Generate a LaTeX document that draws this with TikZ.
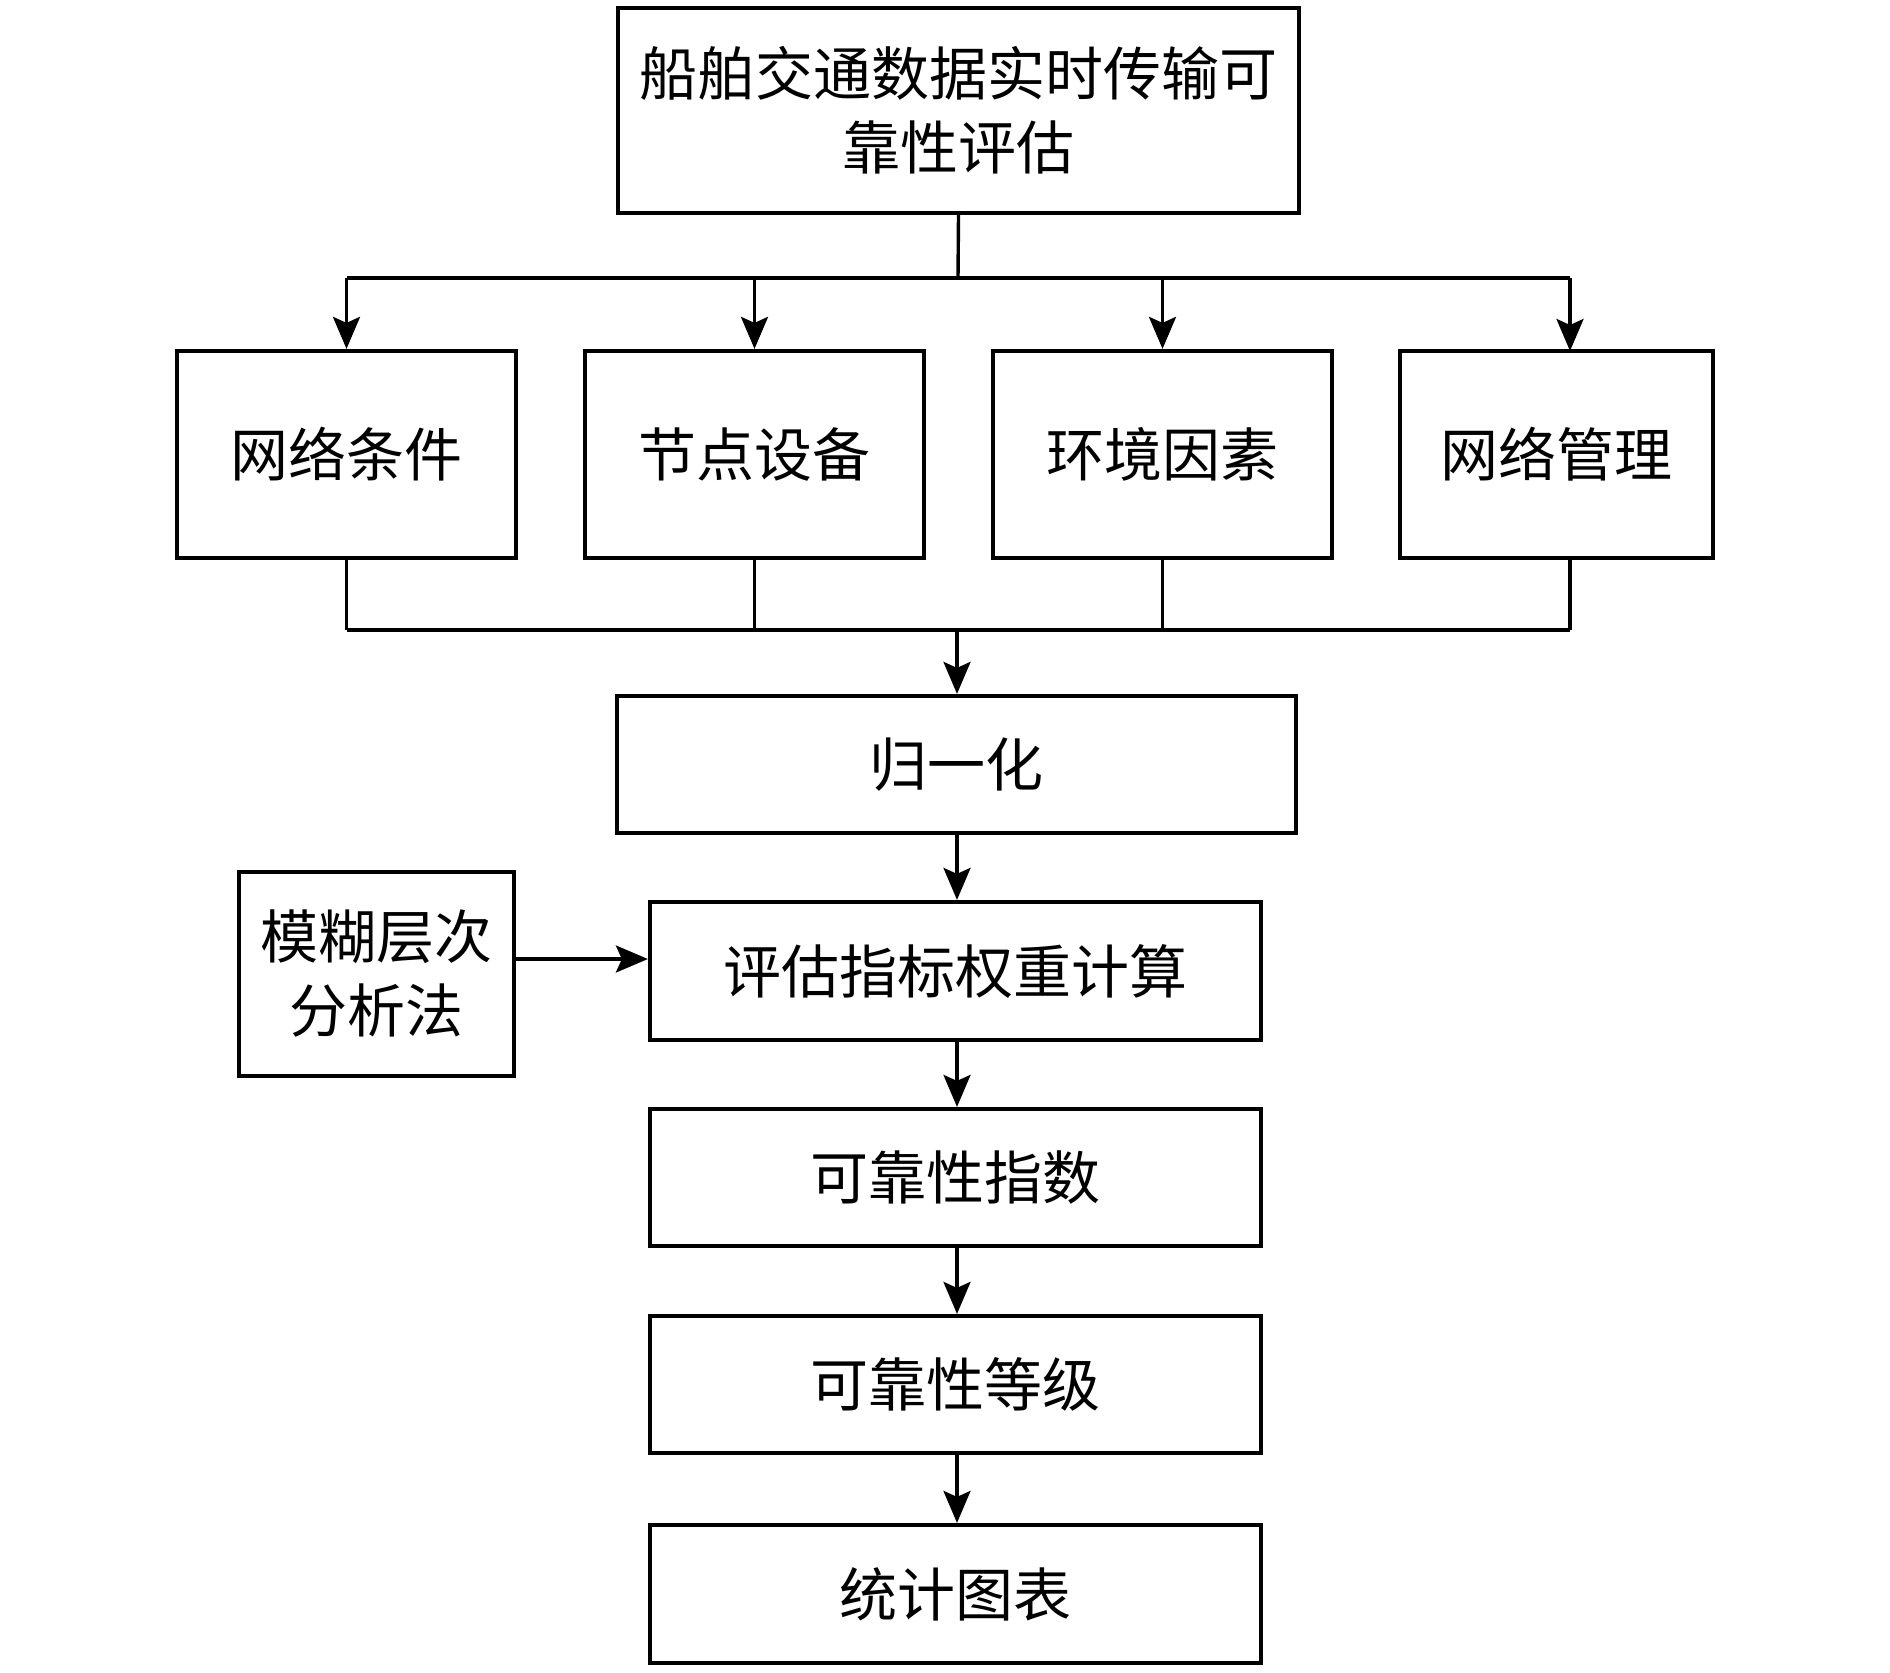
\documentclass[tikz,border=0pt]{standalone}
\usepackage{fontspec}
\setmainfont{Noto Sans CJK SC}
\usetikzlibrary{arrows.meta}
\begin{document}
\begin{tikzpicture}[x=0.5pt,y=-0.5pt,
  box/.style={draw,line width=2.1pt,inner sep=0pt,align=center,
    font=\fontsize{29pt}{37pt}\selectfont},
  conn/.style={line width=1.7pt},
  arr/.style={line width=1.7pt,-{Stealth[length=16pt,width=13.5pt,inset=3pt]}}]
\path[use as bounding box] (0,0) rectangle (1890,1672);
% nodes
\node[box,minimum width=340.5pt,minimum height=102.5pt] (top) at (958.5,110.5) {船舶交通数据实时传输可\\靠性评估};
\node[box,minimum width=169.5pt,minimum height=103.5pt] (b1) at (346.5,454.5) {网络条件};
\node[box,minimum width=169.5pt,minimum height=103.5pt] (b2) at (754.5,454.5) {节点设备};
\node[box,minimum width=169.5pt,minimum height=103.5pt] (b3) at (1162.5,454.5) {环境因素};
\node[box,minimum width=156.5pt,minimum height=103.5pt] (b4) at (1556.5,454.5) {网络管理};
\node[box,minimum width=339.5pt,minimum height=68.5pt] (norm) at (956.5,764.5) {归一化};
\node[box,minimum width=305.5pt,minimum height=69pt] (eval) at (955.5,971) {评估指标权重计算};
\node[box,minimum width=137.5pt,minimum height=102pt] (fuzzy) at (376.5,974) {模糊层次\\分析法};
\node[box,minimum width=305.5pt,minimum height=68.5pt] (index) at (955.5,1177.5) {可靠性指数};
\node[box,minimum width=305.5pt,minimum height=68.5pt] (grade) at (955.5,1384.5) {可靠性等级};
\node[box,minimum width=305.5pt,minimum height=69pt] (stats) at (955.5,1594) {统计图表};
% junction points
\coordinate (jt) at (958,278);
\coordinate (jb) at (957,630);
\coordinate (b4in) at (1570,351);
\coordinate (fz) at (514,959);
% top distribution
\draw[conn] (top.south) -- (jt);
\draw[conn] (b1.north |- jt) -- (b4in |- jt);
\draw[arr] (b1.north |- jt) -- (b1.north);
\draw[arr] (b2.north |- jt) -- (b2.north);
\draw[arr] (b3.north |- jt) -- (b3.north);
\draw[arr] (b4in |- jt) -- (b4in);
% bottom collection
\draw[conn] (b1.south) -- (b1.south |- jb);
\draw[conn] (b2.south) -- (b2.south |- jb);
\draw[conn] (b3.south) -- (b3.south |- jb);
\draw[conn] (b4in |- b4.south) -- (b4in |- jb);
\draw[conn] (b1.south |- jb) -- (b4in |- jb);
\draw[arr] (jb) -- (jb |- norm.north);
% chain
\draw[arr] (norm.south -| jb) -- (eval.north -| jb);
\draw[arr] (eval.south -| jb) -- (index.north -| jb);
\draw[arr] (index.south -| jb) -- (grade.north -| jb);
\draw[arr] (grade.south -| jb) -- (stats.north -| jb);
\draw[arr] (fz) -- (fz -| eval.west);
\end{tikzpicture}
\end{document}
